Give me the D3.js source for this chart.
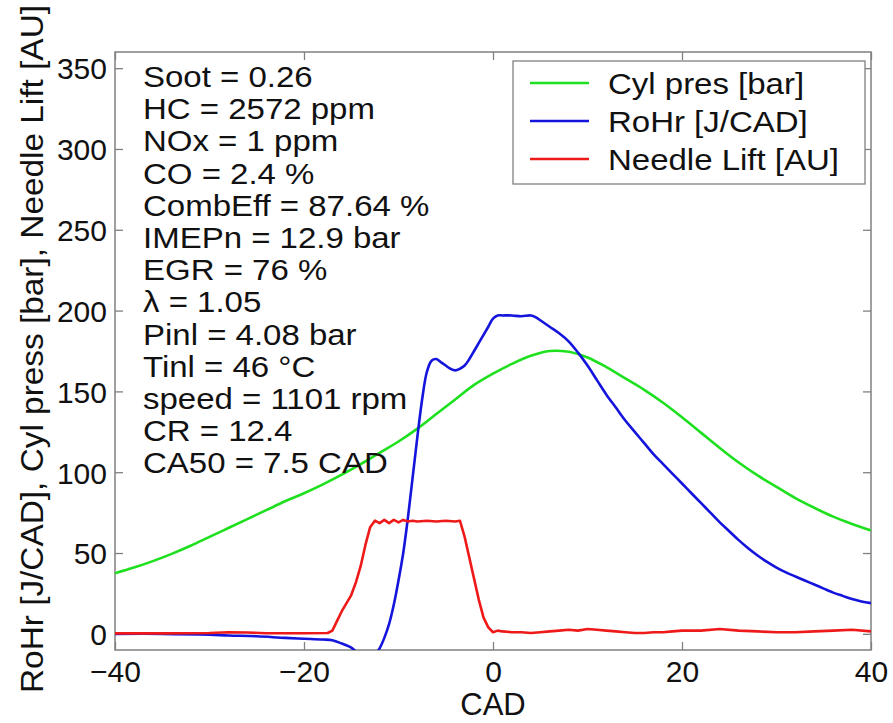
<!DOCTYPE html>
<html>
<head>
<meta charset="utf-8">
<script src="https://cdn.jsdelivr.net/npm/d3@7/dist/d3.min.js"></script>
<style>
body{margin:0;background:#fff;}
text{font-family:"Liberation Sans",Arial,sans-serif;fill:#111;}
</style>
</head>
<body>
<svg id="chart" width="893" height="723"></svg>
<script>
// values (CAD on x)
const presCad = [-40,-38,-36,-34,-32,-30,-28,-26,-24,-22,-20,-18,-16,-14,-12,-10,-8,-6,-4,-2,0,2,4,6,8,10,12,14,16,18,20,22,24,26,28,30,32,34,36,38,40];
const presBar = [37.5,41,45,49.5,54.5,60,65.5,71,76.5,82,87,92.5,98.5,105,112,119,127,136,145,154,161,167,172,175,174.5,171,165,158,151,143,134,124.5,115,106,98,91,84,78,72.5,68,64];

const rohrCad = [-40,-35,-30,-28,-25,-22,-20,-18,-17,-16,-15,-14.5,-14,-13,-12.5,-12,-11.5,-11,-10.5,-10,-9.5,-9,-8.5,-8,-7.5,-7,-6.5,-6,-5.5,-5,-4.5,-4,-3.5,-3,-2.5,-2,-1.5,-1,-0.5,0,0.5,1,2,3,4,4.5,5,6,7,8,9,10,11,12,13,14,15,16,17,18,19,20,21,22,23,24,25,26,27,28,29,30,31,32,33,34,35,36,37,38,39,40];
const rohrVal = [0,0,-0.5,-1,-1.5,-2.5,-3,-3.5,-4,-6,-8.5,-11,-13,-15,-13,-9,-2.5,6,18,33,50,72,97,122,145,162,169,170,168,166,164,163,164,166,170,175,180,185,190,195,197,197,197,196.5,197,196,194,190,186,181,174,166,157,148,140,132,125,118,111,105,99,93,87,81,75,69,63.5,58,53,48.5,44.5,41,38,35.5,33,30.5,28,25.5,23.5,21.5,20,19];

const liftCad = [-40,-35,-30,-28,-26,-24,-20,-17.5,-17,-16.5,-16,-15.5,-15,-14.5,-14,-13.5,-13,-12.5,-12,-11.5,-11,-10.5,-10,-9.5,-9,-8.5,-8,-7,-6,-5,-4,-3.5,-3,-2.5,-2,-1.5,-1,-0.5,0,0.5,1,2,3,4,5,6,7,8,9,10,11,12,13,14,15,16,17,18,19,20,22,24,26,28,30,32,34,36,38,40];
const liftVal = [0.3,0.3,0.5,1,0.8,0.4,0.4,0.5,2,8,14,19,24,32,42,55,66,70,68.5,70.5,68.5,70.5,69,70.5,69.5,70,69.5,70,69.5,70,69.5,70,60,47,34,21,10,4,1,2,1.5,1,1,0.5,1,1.5,2,2.5,2,3,2.5,2,1.5,1,0.5,0.5,1,1,1.5,2,2,3,2,1.5,1,1,1.5,2,2.5,1.5];

const notes = ["Soot = 0.26","HC = 2572 ppm","NOx = 1 ppm","CO = 2.4 %","CombEff = 87.64 %","IMEPn = 12.9 bar","EGR = 76 %","\u03bb = 1.05","Pinl = 4.08 bar","Tinl = 46 \u00b0C","speed = 1101 rpm","CR = 12.4","CA50 = 7.5 CAD"];
const legendNames = ["Cyl pres [bar]","RoHr [J/CAD]","Needle Lift [AU]"];
const lineColors = ["#1ee01e","#1414dd","#ee1a1a"];
const xTicks = [-40,-20,0,20,40];
const yTicks = [0,50,100,150,200,250,300,350];

const W = 893, H = 723;
const margin = {top: 52, right: 22, bottom: 73, left: 115};

const svg = d3.select("#chart");

const x = d3.scaleLinear().domain([-40, 40]).range([margin.left, W - margin.right]);
const y = d3.scaleLinear().domain([-10, 360]).range([H - margin.bottom, margin.top]);

svg.append("defs").append("clipPath").attr("id","plotclip")
  .append("rect")
  .attr("x", x(-40)).attr("y", y(360))
  .attr("width", x(40) - x(-40)).attr("height", y(-10) - y(360));

// box
svg.append("rect")
  .attr("x", x(-40)).attr("y", y(360))
  .attr("width", x(40) - x(-40)).attr("height", y(-10) - y(360))
  .attr("fill","none").attr("stroke","#808080").attr("stroke-width",1.5);

// axes, ticks pointing inward
const gx = svg.append("g").attr("transform", `translate(0,${y(-10)})`)
  .call(d3.axisBottom(x).tickValues(xTicks).tickSize(-8).tickSizeOuter(0).tickPadding(11).tickFormat(d3.format("d")));
const gxt = svg.append("g").attr("transform", `translate(0,${y(360)})`)
  .call(d3.axisTop(x).tickValues(xTicks).tickSize(-8).tickSizeOuter(0).tickFormat(""));
const gy = svg.append("g").attr("transform", `translate(${x(-40)},0)`)
  .call(d3.axisLeft(y).tickValues(yTicks).tickSize(-8).tickSizeOuter(0).tickPadding(8));
const gyr = svg.append("g").attr("transform", `translate(${x(40)},0)`)
  .call(d3.axisRight(y).tickValues(yTicks).tickSize(-8).tickSizeOuter(0).tickFormat(""));

[gx, gxt, gy, gyr].forEach(g => {
  g.select(".domain").remove();
  g.selectAll(".tick line").attr("stroke","#808080").attr("stroke-width",1.3);
  g.selectAll(".tick text").attr("font-size",30).attr("fill","#111")
    .attr("font-family",'"Liberation Sans",Arial,sans-serif');
});
gy.selectAll(".tick text").attr("dy","0.36em");

// curves
const series = [
  {cad: presCad, val: presBar, curve: d3.curveCatmullRom},
  {cad: rohrCad, val: rohrVal, curve: d3.curveCatmullRom},
  {cad: liftCad, val: liftVal, curve: d3.curveLinear}
];
const plot = svg.append("g").attr("clip-path","url(#plotclip)");
series.forEach((s, i) => {
  const line = d3.line().x(d => x(d[0])).y(d => y(d[1])).curve(s.curve);
  plot.append("path")
    .datum(d3.zip(s.cad, s.val))
    .attr("d", line)
    .attr("fill","none")
    .attr("stroke", lineColors[i])
    .attr("stroke-width", 2.6)
    .attr("stroke-linejoin","round");
});

// text block
const noteG = svg.append("g");
notes.forEach((t, i) => {
  noteG.append("g")
    .attr("transform", `translate(143,${87 + i * 32.2}) scale(1.1,1)`)
    .append("text").attr("font-size",30).text(t);
});

// legend
const lg = svg.append("g");
lg.append("rect").attr("x",513).attr("y",61).attr("width",352).attr("height",123)
  .attr("fill","#fff").attr("stroke","#808080").attr("stroke-width",1.3);
legendNames.forEach((n, i) => {
  const ly = 83 + i * 38;
  lg.append("line").attr("x1",530).attr("x2",589).attr("y1",ly).attr("y2",ly)
    .attr("stroke", lineColors[i]).attr("stroke-width",2.6);
  lg.append("g").attr("transform", `translate(608,${ly + 11}) scale(1.1,1)`)
    .append("text").attr("font-size",30).text(n);
});

// axis titles
svg.append("text")
  .attr("x", x(0)).attr("y", 715)
  .attr("text-anchor","middle").attr("font-size",31)
  .text("CAD");

svg.append("text")
  .attr("transform","translate(43,693) rotate(-90)")
  .attr("font-size",32)
  .attr("textLength",688).attr("lengthAdjust","spacingAndGlyphs")
  .text("RoHr [J/CAD], Cyl press [bar], Needle Lift [AU]");
</script>
</body>
</html>
